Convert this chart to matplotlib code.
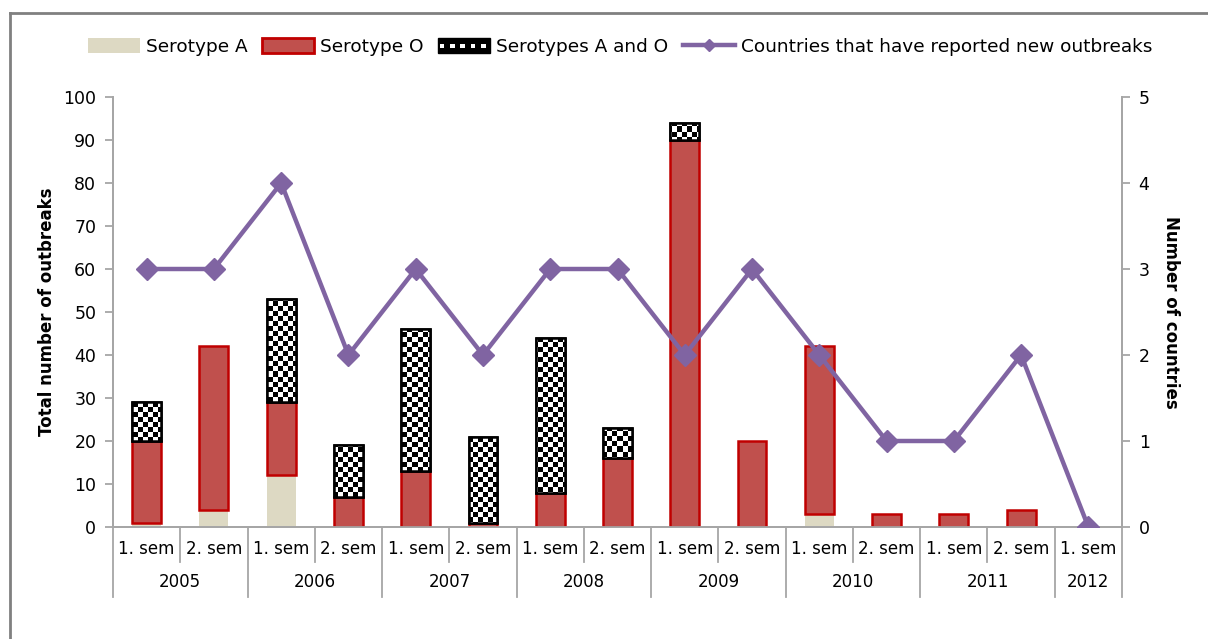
import matplotlib
matplotlib.use("Agg")
import matplotlib.pyplot as plt
import numpy as np
from matplotlib.patches import Rectangle
from matplotlib.legend_handler import HandlerBase
from matplotlib.lines import Line2D

plt.rcParams['font.family'] = ['DejaVu Sans']

semesters = ["1. sem", "2. sem"] * 7 + ["1. sem"]
years = ["2005", "2006", "2007", "2008", "2009", "2010", "2011", "2012"]
year_spans = [2, 2, 2, 2, 2, 2, 2, 1]
serotype_a = [1, 4, 12, 0, 0, 0, 0, 0, 0, 0, 3, 0, 0, 0, 0]
serotype_o = [19, 38, 17, 7, 13, 1, 8, 16, 90, 20, 39, 3, 3, 4, 0]
serotype_ao = [9, 0, 24, 12, 33, 20, 36, 7, 4, 0, 0, 0, 0, 0, 0]
countries = [3, 3, 4, 2, 3, 2, 3, 3, 2, 3, 2, 1, 1, 2, 0]

C_A = "#DDD9C3"
C_O = "#C0504D"
C_O_EDGE = "#C00000"
C_LINE = "#8064A2"
GRAY = "#A6A6A6"

W, H = 1208, 639
fig = plt.figure(figsize=(W / 100, H / 100), dpi=100)
ax = fig.add_axes([113 / W, 1 - 527 / H, (1122 - 113) / W, (527 - 97) / H])
ax2 = ax.twinx()

x = np.arange(len(semesters))
bw = 0.43
a = np.array(serotype_a)
o = np.array(serotype_o)
ao = np.array(serotype_ao)

ax.bar(x, a, bw, color=C_A, edgecolor="none", zorder=2)
ax.bar(x[o > 0], o[o > 0], bw, bottom=a[o > 0], color=C_O, edgecolor=C_O_EDGE,
       linewidth=1.8, zorder=3)

xlim = (-0.5, len(x) - 0.5)
ylim = (0, 100)
nx, ny = 202, 86
cb = (np.add.outer(np.arange(ny), np.arange(nx)) % 2).astype(float)
mask = ao > 0
bars_ao = ax.bar(x[mask], ao[mask], bw, bottom=(a + o)[mask], color="black",
                 edgecolor="black", linewidth=1.8, zorder=3)
for b in bars_ao:
    im = ax.imshow(cb, cmap="gray", extent=(xlim[0], xlim[1], ylim[0], ylim[1]),
                   aspect="auto", interpolation="nearest", zorder=4, origin="lower")
    im.set_clip_path(b)
ax.bar(x[mask], ao[mask], bw, bottom=(a + o)[mask], facecolor="none",
       edgecolor="black", linewidth=1.8, zorder=5)

ax.set_xlim(*xlim)
ax.set_ylim(*ylim)
ax.set_yticks(np.arange(0, 101, 10))
ax.set_xticks([])
ax2.plot(x, countries, color=C_LINE, linewidth=3.2, marker="D", markersize=11,
         zorder=6)
ax2.set_ylim(0, 5)
ax2.set_yticks(range(0, 6))
ax2.set_xlim(*xlim)

for a_ in (ax, ax2):
    for s in a_.spines.values():
        s.set_color(GRAY)
        s.set_linewidth(1.3)
    a_.spines["top"].set_visible(False)
    a_.tick_params(axis="y", colors=GRAY, labelcolor="black", labelsize=12.5,
                   length=6, width=1.3, direction="out", pad=6)
ax.set_ylabel("Total number of outbreaks", fontsize=12, fontweight="bold",
              labelpad=5)
ax2.set_ylabel("Number of countries", fontsize=12, fontweight="bold",
               rotation=-90, labelpad=22)

# category separators and labels
trans = ax.get_xaxis_transform()
axh = (527 - 97)
def yfrac(py):
    return (527 - py) / axh

boundaries = np.arange(len(x) + 1) - 0.5
year_bounds = set(np.concatenate([[0], np.cumsum(year_spans)]) - 0.5)
for bnd in boundaries:
    bottom = yfrac(597) if bnd in year_bounds else yfrac(562)
    ax.plot([bnd, bnd], [0, bottom], transform=trans, color=GRAY, lw=1.3,
            clip_on=False)
for xi, lab in zip(x, semesters):
    ax.text(xi, yfrac(549), lab, transform=trans, ha="center", va="center",
            fontsize=12)
start = 0
for yr, sp in zip(years, year_spans):
    ax.text(start + (sp - 1) / 2, yfrac(582), yr, transform=trans, ha="center",
            va="center", fontsize=12)
    start += sp


class CheckerHandler(HandlerBase):
    def create_artists(self, legend, orig_handle, xdescent, ydescent, width,
                       height, fontsize, trans):
        arts = [Rectangle((-xdescent, -ydescent), width, height, facecolor="black",
                          edgecolor="black", transform=trans)]
        n = 10
        m = 3
        cw = width / n
        ch = height / m
        for i in range(n):
            if i % 2 == 0:
                arts.append(Rectangle((-xdescent + i * cw + cw * 0.3, -ydescent + ch),
                                      cw * 0.9, ch * 0.9, facecolor="white",
                                      edgecolor="none", transform=trans))
        return arts


h_a = Rectangle((0, 0), 1, 1, facecolor=C_A, edgecolor="none")
h_o = Rectangle((0, 0), 1, 1, facecolor=C_O, edgecolor=C_O_EDGE, linewidth=2)
h_ao = Rectangle((0, 0), 1, 1, facecolor="black")
h_l = Line2D([], [], color=C_LINE, linewidth=3.2, marker="D", markersize=6)
fig.legend([h_a, h_o, h_ao, h_l],
           ["Serotype A", "Serotype O", "Serotypes A and O",
            "Countries that have reported new outbreaks"],
           handler_map={h_ao: CheckerHandler()},
           loc="center", bbox_to_anchor=(620 / W, 1 - 47 / H), ncol=4,
           frameon=False, fontsize=13.3, handlelength=2.8, handleheight=0.9,
           handletextpad=0.33, columnspacing=0.8, borderpad=0)

# figure frame (top and left)
fig.add_artist(Line2D([10 / W, 10 / W], [0, 1 - 13 / H], color="#808080", lw=2,
                      transform=fig.transFigure))
fig.add_artist(Line2D([10 / W, 1], [1 - 13 / H, 1 - 13 / H], color="#808080",
                      lw=2, transform=fig.transFigure))

fig.savefig("out.png", dpi=100)
